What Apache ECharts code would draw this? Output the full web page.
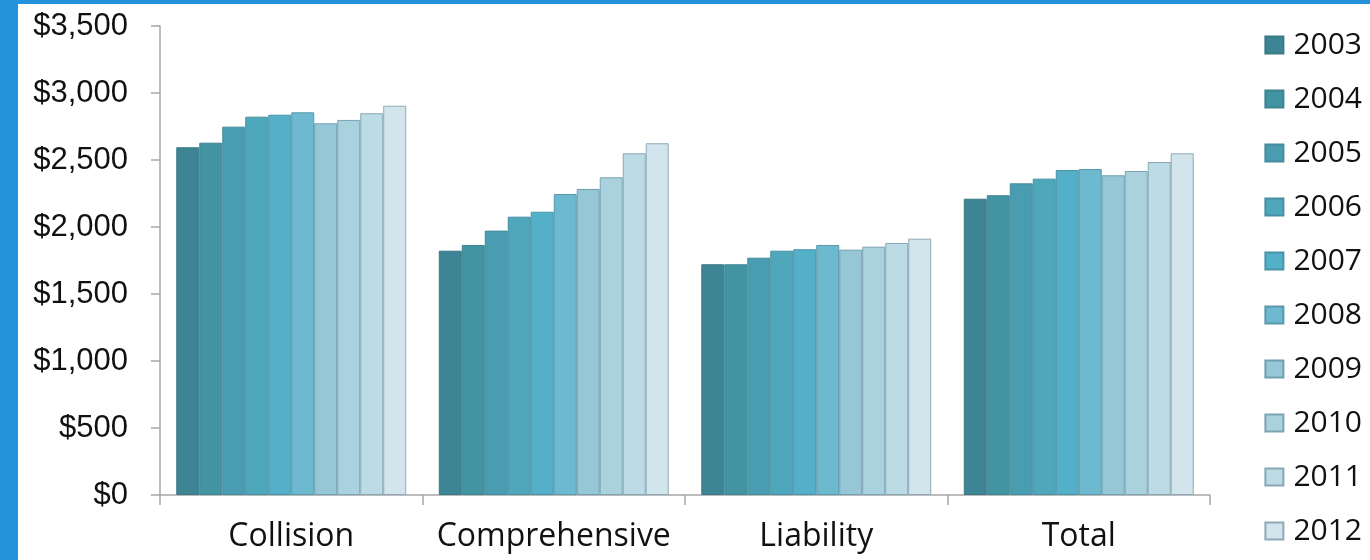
<!DOCTYPE html>
<html>
<head>
<meta charset="utf-8">
<script src="https://cdn.jsdelivr.net/npm/echarts@6/dist/echarts.min.js"></script>
<style>
  html, body { margin: 0; padding: 0; width: 1370px; height: 560px; overflow: hidden; background: #2392db; }
  #frame { position: absolute; left: 18px; top: 4px; right: 0; bottom: 0; background: #ffffff; }
  #chart { position: absolute; left: -18px; top: -4px; width: 1370px; height: 560px; }
</style>
</head>
<body>
<div id="frame"><div id="chart"></div></div>
<script>
// Average claim cost by coverage type, 2003–2012
const categories = ['Collision', 'Comprehensive', 'Liability', 'Total'];
const years = ['2003', '2004', '2005', '2006', '2007', '2008', '2009', '2010', '2011', '2012'];

const v2003 = [2595, 1823, 1722, 2211];
const v2004 = [2629, 1866, 1722, 2237];
const v2005 = [2749, 1973, 1771, 2326];
const v2006 = [2823, 2077, 1823, 2361];
const v2007 = [2838, 2114, 1834, 2425];
const v2008 = [2856, 2246, 1866, 2433];
const v2009 = [2774, 2284, 1831, 2386];
const v2010 = [2799, 2371, 1853, 2418];
const v2011 = [2849, 2550, 1881, 2485];
const v2012 = [2905, 2625, 1913, 2550];
const seriesValues = [v2003, v2004, v2005, v2006, v2007, v2008, v2009, v2010, v2011, v2012];

const yTicks = [0, 500, 1000, 1500, 2000, 2500, 3000, 3500];

const fills = ['#3d8594', '#4294a3', '#4a9db0', '#4ea7bb', '#53b0c8',
               '#6db9d0', '#95c7d7', '#aad1de', '#bddbe5', '#d2e5ec'];
const edges = ['#3a7886', '#3d8492', '#448c9c', '#468fa2', '#4a94a8',
               '#5a98ab', '#6f9fb0', '#7ba3b2', '#86a8b6', '#8eaab8'];

const chart = echarts.init(document.getElementById('chart'), null, { renderer: 'canvas' });

chart.setOption({
  animation: false,
  backgroundColor: 'transparent',
  grid: { left: 160, right: 160, top: 26, bottom: 65, containLabel: false },
  legend: {
    orient: 'vertical',
    right: 8,
    top: 30,
    padding: 0,
    itemWidth: 18,
    itemHeight: 17,
    itemGap: 24,
    icon: 'rect',
    data: years,
    textStyle: { fontFamily: 'Open Sans', fontSize: 30, lineHeight: 30, color: '#111', padding: [0, 0, 0, 5] }
  },
  xAxis: {
    type: 'category',
    data: categories,
    axisLine: { lineStyle: { color: '#a6a6a6', width: 1.5 } },
    axisTick: { show: true, length: 10, alignWithLabel: false, lineStyle: { color: '#a6a6a6', width: 1.5 } },
    axisLabel: { interval: 0, hideOverlap: false, fontFamily: 'Open Sans', fontSize: 32, color: '#111', margin: 26 }
  },
  yAxis: {
    type: 'value',
    min: 0,
    max: yTicks[yTicks.length - 1],
    interval: 500,
    splitLine: { show: false },
    axisLine: { show: true, lineStyle: { color: '#a6a6a6', width: 1.5 } },
    axisTick: { show: true, length: 9, lineStyle: { color: '#a6a6a6', width: 1.5 } },
    axisLabel: {
      fontFamily: 'Liberation Sans', fontSize: 31, color: '#111', margin: 32,
      formatter: v => '$' + v.toLocaleString('en-US')
    }
  },
  series: years.map((y, i) => ({
    name: y,
    type: 'bar',
    data: seriesValues[i],
    barGap: '0%',
    barCategoryGap: '12.4%',
    itemStyle: { color: fills[i], borderColor: edges[i], borderWidth: 1 }
  }))
});
</script>
</body>
</html>
